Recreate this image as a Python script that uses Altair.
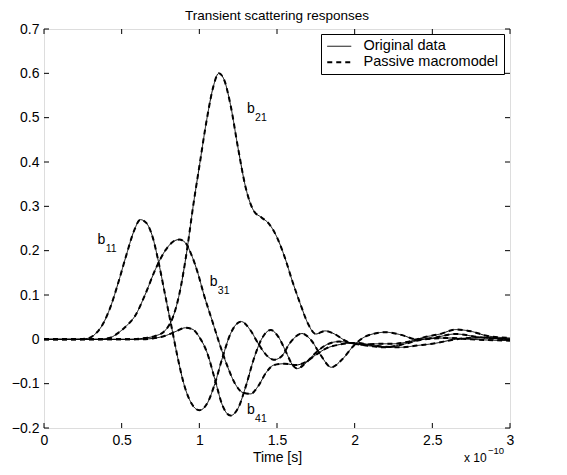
import altair as alt
import pandas as pd

title_text = "Transient scattering responses"
x_title = "Time [s]"
series_names = ["Original data", "Passive macromodel"]
x_ticks = [0, 0.5, 1, 1.5, 2, 2.5, 3]
y_ticks = [-0.2, -0.1, 0, 0.1, 0.2, 0.3, 0.4, 0.5, 0.6, 0.7]

# time in units of 1e-10 s
b11_t = [0, 0.2, 0.28, 0.33, 0.38, 0.43, 0.48, 0.53, 0.58, 0.62, 0.66, 0.70, 0.74, 0.78, 0.82, 0.86, 0.90, 0.95, 1.00, 1.05,
         1.10, 1.15, 1.20, 1.27, 1.33, 1.38, 1.43, 1.48, 1.53, 1.58, 1.66, 1.72, 1.78, 1.85, 1.92, 2.00, 2.08, 2.20, 2.30, 2.40,
         2.50, 2.65, 2.80, 3.00]
b11_v = [0, 0, 0.002, 0.012, 0.035, 0.075, 0.13, 0.19, 0.245, 0.27, 0.262, 0.23, 0.17, 0.10, 0.03, -0.04, -0.10, -0.145, -0.16, -0.145,
         -0.10, -0.04, 0.012, 0.04, 0.02, -0.01, -0.035, -0.046, -0.038, -0.01, 0.013, -0.002, -0.035, -0.063, -0.045, -0.012, 0.008, 0.016, 0.01, 0.0,
         0.003, 0.012, 0.005, 0.0]

b21_t = [0, 0.55, 0.65, 0.72, 0.78, 0.83, 0.87, 0.92, 0.96, 1.00, 1.05, 1.09, 1.125, 1.16, 1.20, 1.25, 1.30, 1.35, 1.40, 1.45,
         1.50, 1.55, 1.60, 1.65, 1.70, 1.75, 1.81, 1.87, 1.95, 2.05, 2.15, 2.25, 2.35, 2.45, 2.55, 2.65, 2.75, 2.85, 3.00]
b21_v = [0, 0, 0.003, 0.008, 0.02, 0.05, 0.10, 0.20, 0.30, 0.39, 0.50, 0.57, 0.60, 0.585, 0.53, 0.43, 0.34, 0.29, 0.275, 0.26,
         0.23, 0.185, 0.13, 0.08, 0.035, 0.012, 0.019, 0.012, -0.005, -0.012, -0.01, -0.01, -0.005, 0.005, 0.012, 0.022, 0.018, 0.008, 0.003]

b31_t = [0, 0.35, 0.42, 0.48, 0.53, 0.59, 0.65, 0.72, 0.78, 0.83, 0.87, 0.91, 0.95, 0.99, 1.03, 1.08, 1.13, 1.18, 1.23, 1.28,
         1.33, 1.38, 1.43, 1.48, 1.55, 1.62, 1.68, 1.75, 1.82, 1.90, 2.00, 2.10, 2.20, 2.30, 2.40, 2.50, 2.65, 2.80, 3.00]
b31_v = [0, 0, 0.003, 0.015, 0.03, 0.055, 0.10, 0.16, 0.20, 0.22, 0.225, 0.218, 0.19, 0.15, 0.10, 0.045, -0.01, -0.06, -0.10, -0.12,
         -0.123, -0.105, -0.075, -0.058, -0.055, -0.058, -0.052, -0.035, -0.02, -0.012, -0.008, -0.012, -0.017, -0.018, -0.014, -0.01, 0.0, 0.004, 0.0]

b41_t = [0, 0.6, 0.7, 0.78, 0.85, 0.91, 0.96, 1.00, 1.05, 1.10, 1.15, 1.20, 1.25, 1.30, 1.35, 1.40, 1.46, 1.51, 1.56, 1.60,
         1.63, 1.68, 1.75, 1.82, 1.90, 2.00, 2.10, 2.20, 2.30, 2.45, 2.60, 2.75, 3.00]
b41_v = [0, 0, 0.002, 0.008, 0.018, 0.026, 0.022, 0.005, -0.03, -0.09, -0.15, -0.172, -0.155, -0.105, -0.045, 0.0, 0.021, 0.005, -0.03, -0.058,
         -0.066, -0.055, -0.03, -0.012, -0.005, -0.01, -0.015, -0.018, -0.012, 0.0, 0.003, 0.0, -0.003]

curve_names = ["b11", "b21", "b31", "b41"]
curve_data = [(b11_t, b11_v), (b21_t, b21_v), (b31_t, b31_v), (b41_t, b41_v)]

label_main = ["b", "b", "b", "b"]
label_main_x = [0.345, 1.307, 1.067, 1.307]
label_main_y = [0.215, 0.51, 0.121, -0.168]
label_sub = ["11", "21", "31", "41"]
label_sub_x = [0.397, 1.359, 1.119, 1.359]
label_sub_y = [0.197, 0.492, 0.103, -0.186]

rows = []
for name, (tt, vv) in zip(curve_names, curve_data):
    for a, b in zip(tt, vv):
        rows.append({"curve": name, "t": a, "v": b})
df = pd.DataFrame(rows)
df_orig = df.assign(series=series_names[0])
df_model = df.assign(series=series_names[1])

FONT = "Liberation Sans"
W, H = 466, 399

xs = alt.Scale(domain=[0, 3], nice=False, zero=False)
ys = alt.Scale(domain=[-0.2, 0.7], nice=False, zero=False)

x_axis = alt.Axis(values=x_ticks, format=".1~f", ticks=False, domain=False, grid=False,
                  labelFlush=False, labelOverlap=False, labelPadding=5, labelFontSize=14,
                  labelFont=FONT, labelColor="black", title=x_title, titleFont=FONT,
                  titleFontSize=14, titleFontWeight="normal", titleColor="black", titlePadding=3)
y_axis = alt.Axis(values=y_ticks, format=".1~f", ticks=False, domain=False, grid=False,
                  labelFlush=False, labelOverlap=False, labelPadding=5, labelFontSize=14,
                  labelFont=FONT, labelColor="black", title=None)

leg = alt.Legend(title=None, orient="none", legendX=277, legendY=5, strokeColor="black",
                 fillColor="white", padding=5, rowPadding=1, symbolType="M-2,0H2",
                 symbolSize=144, symbolOffset=6, symbolStrokeColor="black", labelFont=FONT,
                 labelFontSize=14.5, labelColor="black", labelOffset=17, cornerRadius=0)

dash_scale = alt.Scale(domain=series_names, range=[[1, 0], [5, 4]])
width_scale = alt.Scale(domain=series_names, range=[1, 2])


def lines(d):
    return alt.Chart(d).mark_line(color="black", interpolate="monotone").encode(
        x=alt.X("t:Q", scale=xs, axis=x_axis),
        y=alt.Y("v:Q", scale=ys, axis=y_axis),
        detail="curve:N",
        strokeDash=alt.StrokeDash("series:N", scale=dash_scale, legend=leg),
        strokeWidth=alt.StrokeWidth("series:N", scale=width_scale, legend=leg),
    )


xt = pd.DataFrame({"t": x_ticks})
yt = pd.DataFrame({"v": y_ticks})
TL = 5
tick_layers = [
    alt.Chart(xt).mark_rule(color="black", strokeWidth=1).encode(
        x=alt.X("t:Q", scale=xs, axis=x_axis), y=alt.value(H), y2=alt.value(H - TL)),
    alt.Chart(xt).mark_rule(color="black", strokeWidth=1).encode(
        x=alt.X("t:Q", scale=xs, axis=x_axis), y=alt.value(0), y2=alt.value(TL)),
    alt.Chart(yt).mark_rule(color="black", strokeWidth=1).encode(
        y=alt.Y("v:Q", scale=ys, axis=y_axis), x=alt.value(0), x2=alt.value(TL)),
    alt.Chart(yt).mark_rule(color="black", strokeWidth=1).encode(
        y=alt.Y("v:Q", scale=ys, axis=y_axis), x=alt.value(W), x2=alt.value(W - TL)),
]

lab_main = pd.DataFrame({"s": label_main, "t": label_main_x, "v": label_main_y})
lab_sub = pd.DataFrame({"s": label_sub, "t": label_sub_x, "v": label_sub_y})
labels_main = alt.Chart(lab_main).mark_text(align="left", baseline="alphabetic", font=FONT,
                                            fontSize=14, color="black").encode(
    x=alt.X("t:Q", scale=xs, axis=x_axis), y=alt.Y("v:Q", scale=ys, axis=y_axis), text="s:N")
labels_sub = alt.Chart(lab_sub).mark_text(align="left", baseline="alphabetic", font=FONT,
                                          fontSize=10.5, color="black").encode(
    x=alt.X("t:Q", scale=xs, axis=x_axis), y=alt.Y("v:Q", scale=ys, axis=y_axis), text="s:N")

exp_main = alt.Chart(pd.DataFrame({"s": ["x 10"]})).mark_text(
    align="left", baseline="alphabetic", font=FONT, fontSize=12, color="black").encode(
    text="s:N", x=alt.value(420), y=alt.value(433))
exp_sup = alt.Chart(pd.DataFrame({"s": ["\u221210"]})).mark_text(
    align="left", baseline="alphabetic", font=FONT, fontSize=9.5, color="black").encode(
    text="s:N", x=alt.value(444), y=alt.value(425))

chart = alt.layer(
    lines(df_orig), lines(df_model), *tick_layers, labels_main, labels_sub, exp_main, exp_sup
).properties(
    width=W, height=H,
    title=alt.TitleParams(title_text, font=FONT, fontSize=13.5, fontWeight="normal",
                          color="black", anchor="middle", offset=0),
    autosize=alt.AutoSizeParams(type="none"),
    padding={"left": 36, "top": 21, "right": 49, "bottom": 38},
).configure_view(stroke="black", strokeWidth=1).configure(background="white")

chart.save("out.html", embed_options={"renderer": "svg", "actions": False})
